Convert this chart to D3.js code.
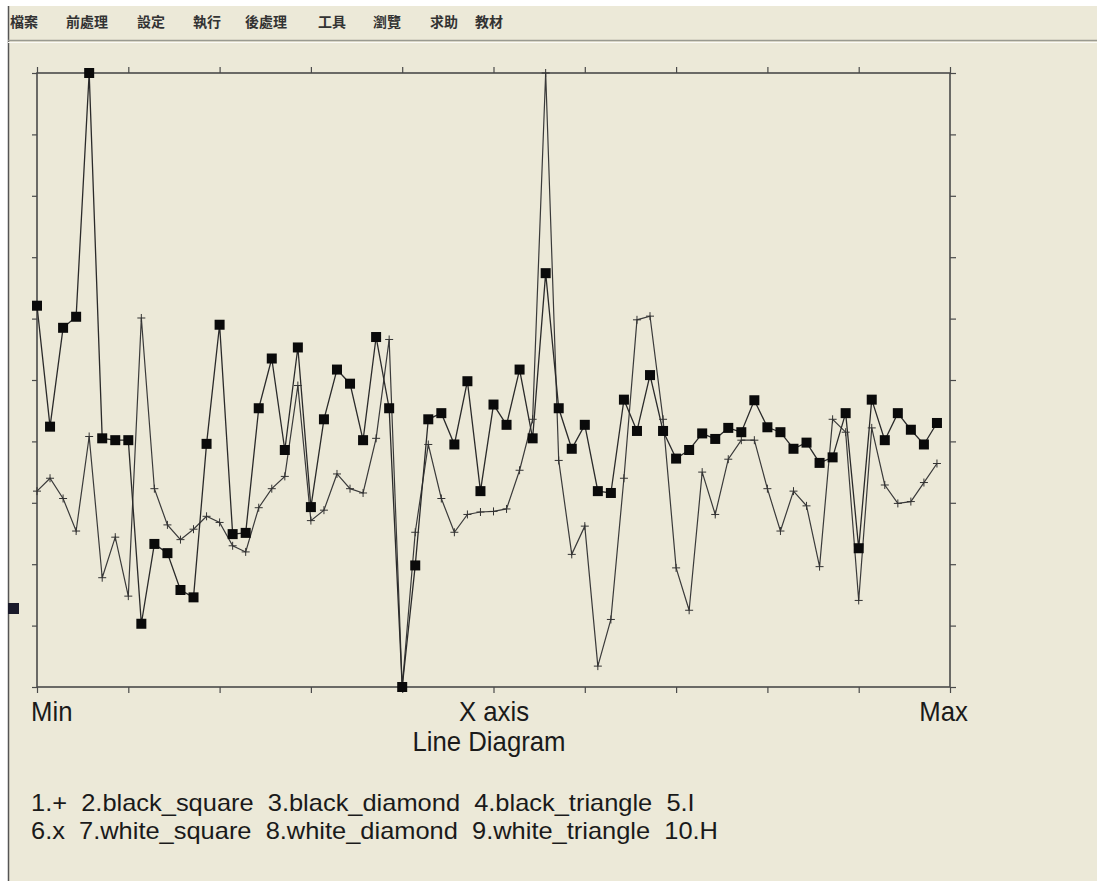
<!DOCTYPE html>
<html>
<head>
<meta charset="utf-8">
<script src="https://cdn.jsdelivr.net/npm/d3@7/dist/d3.min.js"></script>
<style>
html,body{margin:0;padding:0;background:#fff;}
svg{display:block;}
</style>
</head>
<body>
<svg id="chart" width="1098" height="881"></svg>
<script>
const menuItems = ["檔案","前處理","設定","執行","後處理","工具","瀏覽","求助","教材"];
const menuX = [10,66,137,193,245,318,373,430,475];
const xLabels = ["Min","X axis","Max"];
const title = "Line Diagram";
const legendRow1 = "1.+  2.black_square  3.black_diamond  4.black_triangle  5.I";
const legendRow2 = "6.x  7.white_square  8.white_diamond  9.white_triangle  10.H";

// series 1: "+" markers
const plusSeries = [3.19,3.40,3.07,2.54,4.08,1.78,2.44,1.48,6.01,3.23,
  2.64,2.40,2.57,2.78,2.68,2.30,2.20,2.92,3.23,3.43,
  4.91,2.71,2.88,3.47,3.23,3.16,4.05,5.66,0.00,2.52,
  3.95,3.07,2.52,2.81,2.85,2.86,2.90,3.53,4.36,10.0,
  3.69,2.16,2.62,0.34,1.10,3.40,5.98,6.04,4.36,1.94,
  1.25,3.50,2.81,3.71,4.02,4.02,3.23,2.54,3.19,2.95,
  1.96,4.36,4.15,1.41,4.22,3.29,2.99,3.02,3.33,3.64];
// series 2: black squares
const squareSeries = [6.21,4.24,5.85,6.03,10.0,4.05,4.02,4.02,1.03,2.33,
  2.18,1.58,1.46,3.96,5.90,2.49,2.51,4.54,5.35,3.86,
  5.53,2.93,4.36,5.17,4.94,4.02,5.70,4.54,0.00,1.98,
  4.36,4.46,3.95,4.98,3.19,4.60,4.27,5.17,4.05,6.74,
  4.54,3.88,4.27,3.19,3.16,4.68,4.17,5.08,4.17,3.72,
  3.86,4.13,4.04,4.22,4.15,4.67,4.23,4.15,3.88,3.98,
  3.65,3.74,4.46,2.26,4.68,4.02,4.46,4.19,3.95,4.30];

const svg = d3.select("#chart");
const W = 1098, H = 881;
const bg = "#ECE9D8";
svg.append("rect").attr("x",0).attr("y",0).attr("width",W).attr("height",H).attr("fill","#fff");
svg.append("rect").attr("x",8).attr("y",6).attr("width",1089).attr("height",H-6).attr("fill",bg);

svg.append("line").attr("x1",8.5).attr("x2",8.5).attr("y1",6).attr("y2",H).attr("stroke","#555").attr("stroke-width",1.5);
svg.append("line").attr("x1",8).attr("x2",1097).attr("y1",40.5).attr("y2",40.5).attr("stroke","#9a9a90").attr("stroke-width",1.5);
svg.append("line").attr("x1",8).attr("x2",1097).attr("y1",42.5).attr("y2",42.5).attr("stroke","#fbfaf5").attr("stroke-width",1);

svg.append("g").selectAll("text").data(menuItems).join("text")
  .attr("x",(d,i)=>menuX[i]).attr("y",27)
  .attr("font-family","'Noto Sans CJK TC','Noto Sans CJK SC',sans-serif")
  .attr("font-size",14).attr("font-weight","bold").attr("fill","#333")
  .text(d=>d);

svg.append("rect").attr("x",8).attr("y",603).attr("width",11).attr("height",11).attr("fill","#1a1a2a");

const L = 37, R = 950, T = 73, B = 687;
const x = d3.scaleLinear().domain([0,70]).range([L,R]);
const y = d3.scaleLinear().domain([0,10]).range([B,T]);

const axisColor = "#4a4a4a";
const g = svg.append("g");
g.append("rect").attr("x",L).attr("y",T).attr("width",R-L).attr("height",B-T)
  .attr("fill","none").attr("stroke",axisColor).attr("stroke-width",1.6);

const xt = d3.range(0,71,7);
const yt = d3.range(0,11,1);
const axStyle = sel => { sel.select(".domain").remove(); sel.selectAll("line").attr("stroke",axisColor).attr("stroke-width",1.2); sel.selectAll("text").remove(); };
g.append("g").attr("transform",`translate(0,${B})`).call(d3.axisBottom(x).tickValues(xt).tickSize(6)).call(axStyle);
g.append("g").attr("transform",`translate(0,${T})`).call(d3.axisTop(x).tickValues(xt).tickSize(6)).call(axStyle);
g.append("g").attr("transform",`translate(${L},0)`).call(d3.axisLeft(y).tickValues(yt).tickSize(5)).call(axStyle);
g.append("g").attr("transform",`translate(${R},0)`).call(d3.axisRight(y).tickValues(yt).tickSize(6)).call(axStyle);

const line = d3.line().x((d,i)=>x(i)).y(d=>y(d));
g.append("path").datum(plusSeries).attr("d",line).attr("fill","none").attr("stroke","#3a3a3a").attr("stroke-width",1.2);
g.append("path").datum(squareSeries).attr("d",line).attr("fill","none").attr("stroke","#2a2a2a").attr("stroke-width",1.3);

const pm = g.append("g").selectAll("g").data(plusSeries).join("g")
  .attr("transform",(d,i)=>`translate(${x(i)},${y(d)})`);
pm.append("line").attr("x1",-4).attr("x2",4).attr("y1",0).attr("y2",0).attr("stroke","#333").attr("stroke-width",1);
pm.append("line").attr("x1",0).attr("x2",0).attr("y1",-4).attr("y2",4).attr("stroke","#333").attr("stroke-width",1);

g.append("g").selectAll("rect").data(squareSeries).join("rect")
  .attr("x",(d,i)=>x(i)-5).attr("y",d=>y(d)-5).attr("width",10).attr("height",10).attr("fill","#0a0a0a");

const font = "Arial, 'Liberation Sans', sans-serif";
const txt = (t,xx,yy,anchor,fs,sx) => svg.append("text")
  .attr("transform",`translate(${xx},${yy}) scale(${sx},1)`).attr("text-anchor",anchor)
  .attr("font-family",font).attr("font-size",fs).attr("fill","#1a1a1a").style("white-space","pre").text(t);
txt(xLabels[0],31,721,"start",28,0.92);
txt(xLabels[1],494,721,"middle",28,0.92);
txt(xLabels[2],968,721,"end",28,0.92);
txt(title,489,751,"middle",28,0.92);
txt(legendRow1,31,811,"start",24,1.06);
txt(legendRow2,31,839,"start",24,1.06);
</script>
</body>
</html>
